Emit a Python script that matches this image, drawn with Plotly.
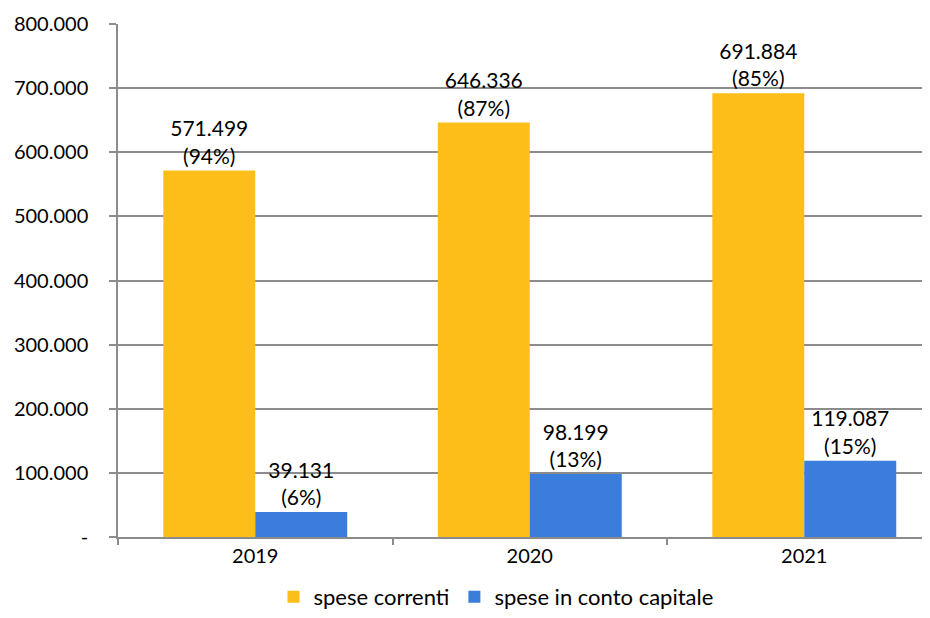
import plotly.graph_objects as go

years = ["2019", "2020", "2021"]
correnti = [571499, 646336, 691884]
capitale = [39131, 98199, 119087]
pct_correnti = ["94%", "87%", "85%"]
pct_capitale = ["6%", "13%", "15%"]
ytick_vals = [0, 100000, 200000, 300000, 400000, 500000, 600000, 700000, 800000]
ytick_text = ["-", "100.000", "200.000", "300.000", "400.000", "500.000", "600.000", "700.000", "800.000"]


def fmt(v):
    return f"{v:,}".replace(",", ".")


FONT = "Lato, 'Liberation Sans', sans-serif"

fig = go.Figure()
fig.add_trace(go.Bar(
    name="spese correnti", x=years, y=correnti,
    marker=dict(color="#FDBE1A", line=dict(width=0)),
    text=[f"{fmt(v)}<br>({p})" for v, p in zip(correnti, pct_correnti)],
    textposition="outside", cliponaxis=False,
    textfont=dict(size=21, color="#000000", family=FONT),
))
fig.add_trace(go.Bar(
    name="spese in conto capitale", x=years, y=capitale,
    marker=dict(color="#3A7DDA", line=dict(width=0)),
    text=[f"{fmt(v)}<br>({p})" for v, p in zip(capitale, pct_capitale)],
    textposition="outside", cliponaxis=False,
    textfont=dict(size=21, color="#000000", family=FONT),
))

fig.update_layout(
    width=922, height=610,
    margin=dict(l=110, r=0, t=16, b=81, autoexpand=False),
    paper_bgcolor="white", plot_bgcolor="white",
    barmode="group", bargap=0.33, bargroupgap=0,
    font=dict(family=FONT, size=20, color="#000000"),
    uniformtext=dict(mode=False),
    legend=dict(orientation="h", x=0.4655, xanchor="center", y=-0.158, yanchor="bottom",
                font=dict(size=22), itemwidth=30),
    showlegend=True,
)
fig.update_xaxes(
    type="category", range=[-0.5, 2.458], automargin=False,
    showline=True, linecolor="#8C8C8C", linewidth=1.5,
    ticks="outside", tickson="boundaries", ticklen=6, tickcolor="#8C8C8C", tickwidth=1.5,
    tickfont=dict(size=20), showgrid=False,
)
fig.update_yaxes(
    range=[0, 800000], tickvals=ytick_vals, ticktext=ytick_text, automargin=False,
    showline=True, linecolor="#8C8C8C", linewidth=1.5,
    showgrid=True, gridcolor="#8C8C8C", gridwidth=1.5,
    ticks="outside", ticklen=7, tickcolor="#8C8C8C", tickwidth=1.5,
    ticklabelstandoff=17, tickfont=dict(size=20),
    zeroline=False,
)

fig.write_html("out.html")
